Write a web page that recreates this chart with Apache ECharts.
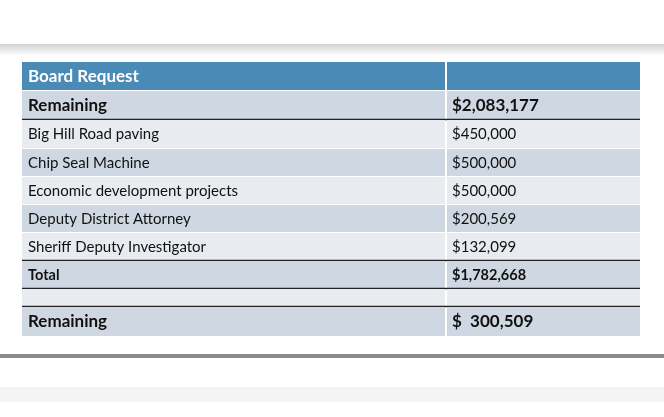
<!DOCTYPE html>
<html>
<head>
<meta charset="UTF-8">
<title>Board Request</title>
<script src="https://cdn.jsdelivr.net/npm/echarts@6/dist/echarts.min.js"></script>
<style>body{margin:0}</style>
</head>
<body>
<div id="main" style="width:664px;height:417px;"></div>
<script type="text/javascript">
// table content
var labels = ['Board Request', 'Remaining', 'Big Hill Road paving', 'Chip Seal Machine',
  'Economic development projects', 'Deputy District Attorney', 'Sheriff Deputy Investigator',
  'Total', '', 'Remaining'];
var amounts = ['', '$2,083,177', '$450,000', '$500,000', '$500,000', '$200,569', '$132,099',
  '$1,782,668', '', '$  300,509'];

// row styling (layout only)
var rowHeights = [29, 29, 29, 28, 28, 28, 28, 28, 18, 30];
var rowKinds = ['head', 'big', 'light', 'dark', 'light', 'dark', 'light', 'total', 'light', 'big'];
var lineBelow = [false, true, false, false, false, false, true, true, true, false];

var tops = [], acc = 0;
rowHeights.forEach(function(h) { tops.push(acc); acc += h; });
var rows = labels.map(function(l, i) { return [i, tops[i], tops[i] + rowHeights[i]]; });

var myChart = echarts.init(document.getElementById('main'));
var FONT = 'Lato';
var SPLIT = (446 - 22) / (640 - 22);

myChart.setOption({
  backgroundColor: '#fff',
  animation: false,
  graphic: [
    { type: 'rect', shape: { x: 0, y: 44, width: 664, height: 12 },
      style: { fill: new echarts.graphic.LinearGradient(0, 0, 0, 1, [
        { offset: 0, color: '#d2d2d2' }, { offset: 1, color: '#ffffff' }]) } },
    { type: 'rect', shape: { x: 0, y: 354, width: 664, height: 4 }, style: { fill: '#8a8a8a' } },
    { type: 'rect', shape: { x: 0, y: 387, width: 664, height: 15 }, style: { fill: '#f3f3f3' } }
  ],
  grid: { left: 22, right: 24, top: 62, bottom: 417 - 62 - acc },
  xAxis: { type: 'value', min: 0, max: 1, show: false },
  yAxis: { type: 'value', min: 0, max: acc, inverse: true, show: false },
  series: [{
    type: 'custom',
    data: rows,
    renderItem: function(params, api) {
      var i = api.value(0);
      var tl = api.coord([0, api.value(1)]);
      var mid = api.coord([SPLIT, api.value(1)]);
      var br = api.coord([1, api.value(2)]);
      var h = br[1] - tl[1];
      var kind = rowKinds[i];
      var fill = kind === 'head' ? '#4a8ab6' : (kind === 'light' ? '#e8ebf0' : '#cfd8e2');
      var color = kind === 'head' ? '#ffffff' : '#111';
      var weight = (kind === 'head' || kind === 'big' || kind === 'total') ? 'bold' : 'normal';
      var size = (kind === 'head' || kind === 'big') ? 17 : (kind === 'total' ? 14.5 : 15);
      var children = [
        { type: 'rect', shape: { x: tl[0], y: tl[1], width: mid[0] - tl[0] - 1, height: h - 1 }, style: { fill: fill } },
        { type: 'rect', shape: { x: mid[0] + 1, y: tl[1], width: br[0] - mid[0] - 1, height: h - 1 }, style: { fill: fill } },
        { type: 'text', x: tl[0] + 6, y: tl[1] + h / 2,
          style: { text: labels[i], fill: color, font: weight + ' ' + size + 'px ' + FONT, verticalAlign: 'middle' } },
        { type: 'text', x: mid[0] + 6, y: tl[1] + h / 2,
          style: { text: amounts[i], fill: color, font: weight + ' ' + size + 'px ' + FONT, verticalAlign: 'middle' } }
      ];
      if (lineBelow[i]) {
        children.push({ type: 'line', shape: { x1: tl[0], y1: br[1] - 0.5, x2: br[0], y2: br[1] - 0.5 },
          style: { stroke: '#222', lineWidth: 1.3 } });
      }
      return { type: 'group', children: children };
    }
  }]
});
</script>
</body>
</html>
